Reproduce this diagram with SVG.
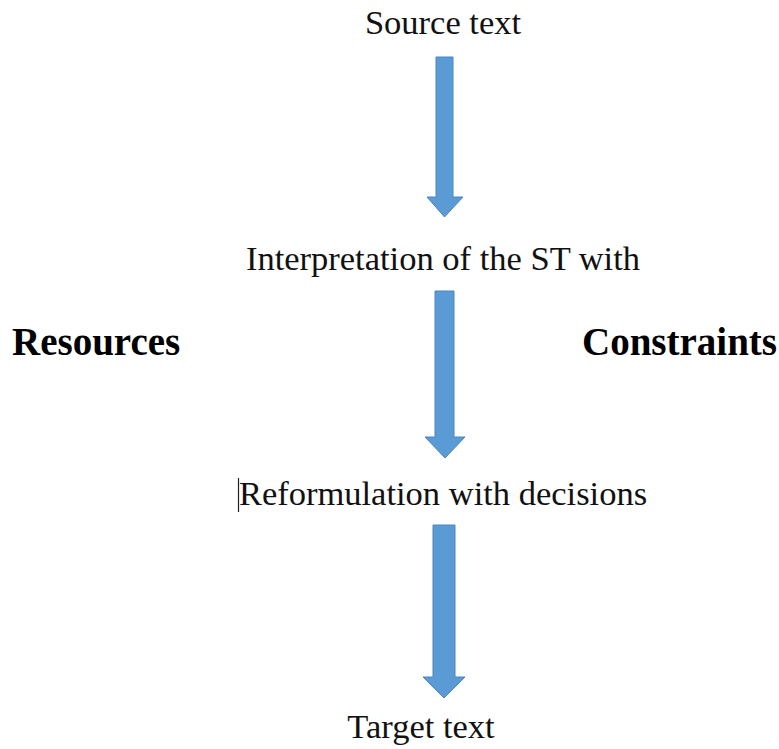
<svg xmlns="http://www.w3.org/2000/svg" width="779" height="749" viewBox="0 0 779 749">
  <style>
    .label { font-family: "Liberation Serif", "Times New Roman", serif; font-size: 34.5px; fill: #111; }
    .side { font-family: "Liberation Serif", "Times New Roman", serif; font-size: 39px; font-weight: bold; fill: #000; }
    .arrow { fill: #5B9BD5; stroke: #4a86c0; stroke-width: 1; }
  </style>
  <rect width="779" height="749" fill="#fff"/>

  <g id="connectors">
    <polygon class="arrow" points="436,57 453,57 453,197 463,197 444.5,217 427,197 436,197"/>
    <polygon class="arrow" points="435,291 454,291 454,437 465,437 445,458 425,437 435,437"/>
    <polygon class="arrow" points="433,525 455,525 455,677 465,677 444,698 423,677 433,677"/>
  </g>

  <g id="source">
    <text class="label" x="443" y="34" text-anchor="middle">Source text</text>
  </g>
  <g id="interpretation">
    <text class="label" x="443" y="270" text-anchor="middle">Interpretation of the ST with</text>
  </g>
  <g id="resources">
    <text class="side" x="12" y="355">Resources</text>
  </g>
  <g id="constraints">
    <text class="side" x="582" y="355">Constraints</text>
  </g>
  <g id="reformulation">
    <line x1="238.5" y1="478" x2="238.5" y2="512" stroke="#222" stroke-width="1.2"/>
    <text class="label" x="443" y="505" text-anchor="middle">Reformulation with decisions</text>
  </g>
  <g id="target">
    <text class="label" x="421" y="738" text-anchor="middle">Target text</text>
  </g>
</svg>
